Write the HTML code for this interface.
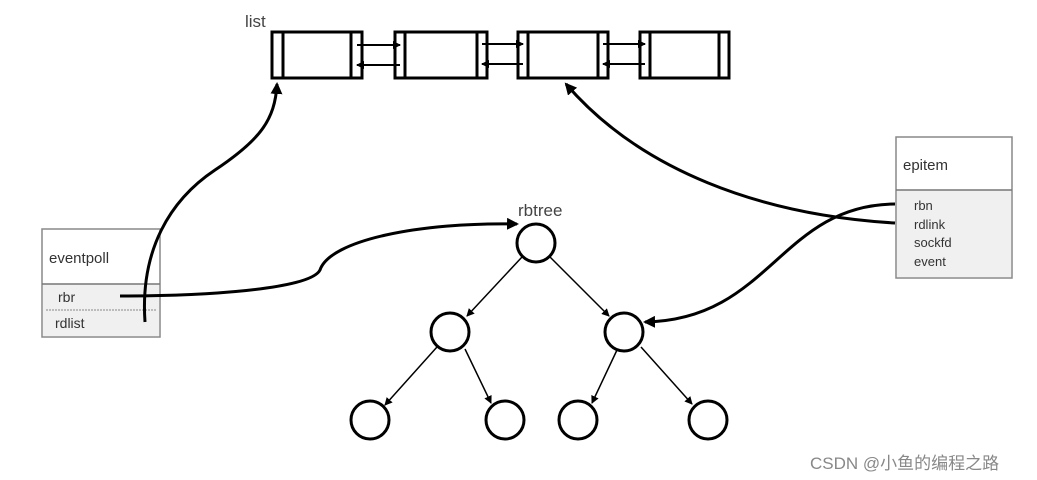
<html><body style="margin:0;background:#fff;width:1037px;height:480px;overflow:hidden">
<svg width="1037" height="480" xmlns="http://www.w3.org/2000/svg" style="font-family:'Liberation Sans',sans-serif">
<defs><marker id="a" markerWidth="8" markerHeight="8" refX="7" refY="4" orient="auto" markerUnits="userSpaceOnUse"><path d="M0,0L8,4L0,8z" fill="#000"/></marker>
<marker id="b" markerWidth="12" markerHeight="12" refX="10" refY="6" orient="auto" markerUnits="userSpaceOnUse"><path d="M0,0L12,6L0,12z" fill="#000"/></marker></defs>
<text x="245" y="27" font-size="17" fill="#444">list</text>
<g fill="none" stroke="#000" stroke-width="3">
<rect x="272" y="32" width="90" height="46"/><line x1="283" y1="32" x2="283" y2="78"/><line x1="351" y1="32" x2="351" y2="78"/>
<rect x="395" y="32" width="92" height="46"/><line x1="405" y1="32" x2="405" y2="78"/><line x1="477" y1="32" x2="477" y2="78"/>
<rect x="518" y="32" width="90" height="46"/><line x1="528" y1="32" x2="528" y2="78"/><line x1="598" y1="32" x2="598" y2="78"/>
<rect x="640" y="32" width="89" height="46"/><line x1="650" y1="32" x2="650" y2="78"/><line x1="719" y1="32" x2="719" y2="78"/>
</g>
<g stroke="#000" stroke-width="2" fill="none">
<line x1="357" y1="45" x2="400" y2="45" marker-end="url(#a)"/><line x1="400" y1="65" x2="357" y2="65" marker-end="url(#a)"/>
<line x1="482" y1="44" x2="523" y2="44" marker-end="url(#a)"/><line x1="523" y1="64" x2="482" y2="64" marker-end="url(#a)"/>
<line x1="603" y1="44" x2="645" y2="44" marker-end="url(#a)"/><line x1="645" y1="64" x2="603" y2="64" marker-end="url(#a)"/>
</g>
<rect x="42" y="229" width="118" height="108" fill="#fff" stroke="#888" stroke-width="1.5"/>
<rect x="43" y="284" width="116" height="52" fill="#f0f0f0"/>
<line x1="42" y1="284" x2="160" y2="284" stroke="#777" stroke-width="1.5"/>
<line x1="46" y1="310" x2="156" y2="310" stroke="#888" stroke-dasharray="2,1"/>
<text x="49" y="263" font-size="15" fill="#333">eventpoll</text>
<text x="58" y="302" font-size="14" fill="#333">rbr</text>
<text x="55" y="328" font-size="14" fill="#333">rdlist</text>
<rect x="896" y="137" width="116" height="141" fill="#fff" stroke="#888" stroke-width="1.5"/>
<rect x="897" y="190" width="114" height="87" fill="#f0f0f0"/>
<line x1="896" y1="190" x2="1012" y2="190" stroke="#777" stroke-width="1.5"/>
<text x="903" y="170" font-size="15" fill="#333">epitem</text>
<text x="914" y="210" font-size="13" fill="#333">rbn</text>
<text x="914" y="229" font-size="13" fill="#333">rdlink</text>
<text x="914" y="247" font-size="13" fill="#333">sockfd</text>
<text x="914" y="266" font-size="13" fill="#333">event</text>
<text x="518" y="216" font-size="17" fill="#444">rbtree</text>
<g fill="#fff" stroke="#000" stroke-width="3">
<circle cx="536" cy="243" r="19"/><circle cx="450" cy="332" r="19"/><circle cx="624" cy="332" r="19"/>
<circle cx="370" cy="420" r="19"/><circle cx="505" cy="420" r="19"/><circle cx="578" cy="420" r="19"/><circle cx="708" cy="420" r="19"/>
</g>
<g stroke="#000" stroke-width="1.5" fill="none">
<line x1="522" y1="257" x2="467" y2="316" marker-end="url(#a)"/>
<line x1="550" y1="257" x2="609" y2="316" marker-end="url(#a)"/>
<line x1="437" y1="347" x2="385" y2="405" marker-end="url(#a)"/>
<line x1="465" y1="349" x2="491" y2="403" marker-end="url(#a)"/>
<line x1="617" y1="350" x2="592" y2="403" marker-end="url(#a)"/>
<line x1="641" y1="347" x2="692" y2="404" marker-end="url(#a)"/>
</g>
<g stroke="#000" stroke-width="3" fill="none">
<path d="M145,322 C140,250 170,200 215,170 C260,140 275,120 277,84" marker-end="url(#b)"/>
<path d="M120,296 C200,296 310,290 320,270 C330,240 420,222 517,224" marker-end="url(#b)"/>
<path d="M895,223 C760,215 640,170 566,84" marker-end="url(#b)"/>
<path d="M895,204 C780,205 770,320 645,322" marker-end="url(#b)"/>
</g>
<text x="810" y="469" font-size="17" fill="#888" style="font-family:'Liberation Sans','Noto Sans CJK SC',sans-serif">CSDN @小鱼的编程之路</text>
</svg></body></html>
